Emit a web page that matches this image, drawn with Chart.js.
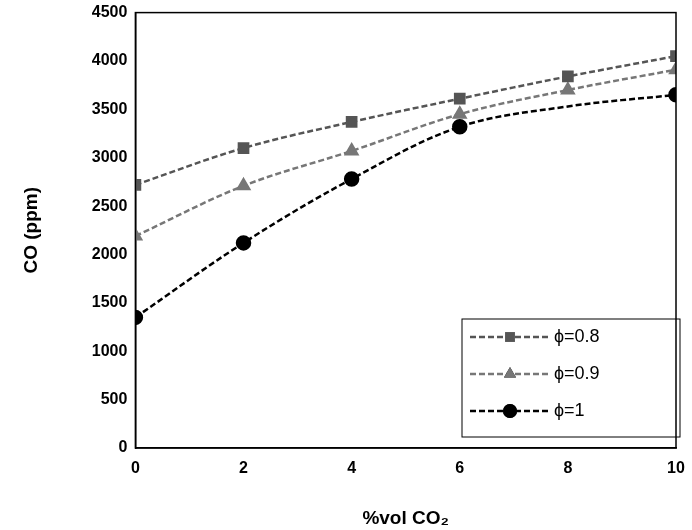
<!DOCTYPE html>
<html><head><meta charset="utf-8">
<script src="https://cdn.jsdelivr.net/npm/chart.js@4"></script>
<style>body{margin:0;background:#fff}#wrap{width:692px;height:530px}</style>
</head><body><div id="wrap"><canvas id="c"></canvas></div>
<script>
const xValues = [0, 2, 4, 6, 8, 10];
const phi08 = [2720, 3100, 3370, 3610, 3840, 4050];
const phi09 = [2190, 2710, 3070, 3450, 3700, 3910];
const phi1 = [1350, 2120, 2780, 3320, 3530, 3650];
const labels = ['\u03D5=0.8', '\u03D5=0.9', '\u03D5=1'];

const font = {family: 'Liberation Sans, Arial', weight: 'bold', size: 16};
const toPts = arr => arr.map((y, i) => ({x: xValues[i], y}));

// custom legend with line + marker, boxed, bottom-right inside plot
const boxLegend = {
  id: 'boxLegend',
  afterDraw(chart) {
    const {ctx, chartArea: a} = chart;
    const w = 218, h = 118, x0 = a.right - w + 4, y0 = a.bottom - h - 11;
    ctx.save();
    ctx.fillStyle = '#fff'; ctx.fillRect(x0, y0, w, h);
    ctx.strokeStyle = '#000'; ctx.lineWidth = 1; ctx.strokeRect(x0, y0, w, h);
    chart.data.datasets.forEach((ds, i) => {
      const y = y0 + 18 + i * 37;
      ctx.strokeStyle = ds.borderColor; ctx.lineWidth = 2.5; ctx.setLineDash([6, 3]);
      ctx.beginPath(); ctx.moveTo(x0 + 8, y); ctx.lineTo(x0 + 88, y); ctx.stroke();
      ctx.setLineDash([]);
      Chart.helpers.drawPoint(ctx, {pointStyle: ds.pointStyle, radius: 7, rotation: 0}, x0 + 48, y);
      ctx.fillStyle = ds.pointBackgroundColor;
      ctx.fill();
      ctx.fillStyle = '#000'; ctx.font = '18px Liberation Sans, Arial';
      ctx.textBaseline = 'middle';
      ctx.fillText(ds.label, x0 + 92, y);
    });
    ctx.restore();
  }
};

const mk = (label, data, color, style, radii) => ({
  label, data: toPts(data), borderColor: color, backgroundColor: color,
  pointBackgroundColor: color, pointBorderColor: color, pointStyle: style,
  pointRadius: radii || 6.5, borderWidth: 2.5, borderDash: [6, 3], tension: 0.35
});

new Chart(document.getElementById('c'), {
  type: 'line',
  data: {datasets: [
    mk(labels[0], phi08, '#555555', 'rect'),
    mk(labels[1], phi09, '#777777', 'triangle'),
    mk(labels[2], phi1, '#000000', 'circle', [6.5, 6.5, 6.5, 6.5, 0, 6.5])
  ]},
  options: {
    responsive: true, maintainAspectRatio: false, animation: false,
    layout: {padding: {top: 8, right: 16, left: 16, bottom: 0}},
    plugins: {legend: {display: false}, tooltip: {enabled: false}},
    scales: {
      x: {type: 'linear', min: 0, max: 10,
        grid: {display: false, drawTicks: true, tickLength: 5, tickColor: '#000'},
        border: {color: '#000', width: 1.5},
        ticks: {stepSize: 2, color: '#000', font, padding: 6},
        title: {display: true, text: '%vol CO\u2082', color: '#000', font: {...font, size: 19}, padding: {top: 23, bottom: 0}}},
      y: {min: 0, max: 4500,
        grid: {display: false, tickLength: 5, tickColor: '#000'},
        border: {color: '#000', width: 1.5},
        ticks: {stepSize: 500, color: '#000', font, callback: v => String(v)},
        title: {display: true, text: 'CO (ppm)', color: '#000', font: {...font, size: 19}, padding: {top: 4, bottom: 46}}}
    }
  },
  plugins: [boxLegend, {
    id: 'frame',
    afterDraw(chart) {
      const {ctx, chartArea: a} = chart;
      ctx.save(); ctx.strokeStyle = '#000'; ctx.lineWidth = 1.5;
      ctx.strokeRect(a.left, a.top, a.right - a.left, a.bottom - a.top);
      ctx.restore();
    }
  }]
});
</script></body></html>
